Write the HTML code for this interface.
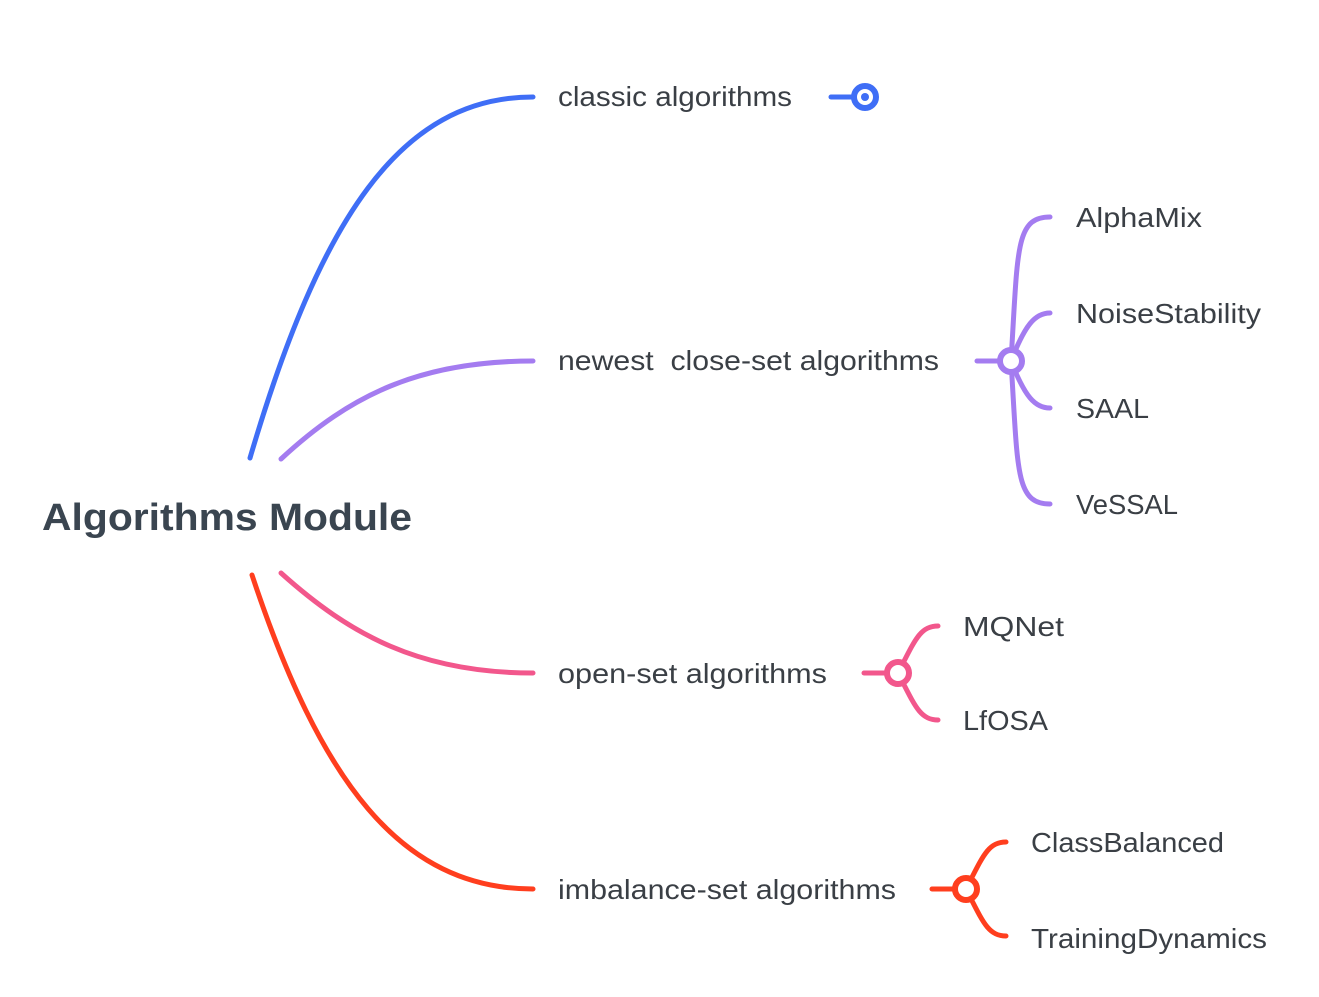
<!DOCTYPE html>
<html><head><meta charset="utf-8"><style>
html,body{margin:0;padding:0;background:#fff;}
svg{display:block;}
text{font-family:"Liberation Sans",sans-serif;fill:#3a3f45;font-size:28px;}
</style></head><body>
<svg width="1319" height="997" viewBox="0 0 1319 997" xmlns="http://www.w3.org/2000/svg">
<g fill="none" stroke-width="5" stroke-linecap="round">
<path d="M250,458 C320,220 400,97 533,97" stroke="#3f6ef6"/>
<path d="M281,459 C350,395 420,361 533,361" stroke="#a47cf0"/>
<path d="M281,573 C350,635 420,673 533,673" stroke="#f2578c"/>
<path d="M252,575 C320,780 400,889 533,889" stroke="#ff3e1e"/>
<line x1="831" y1="97" x2="853" y2="97" stroke="#3f6ef6"/>
<line x1="977" y1="361" x2="1000" y2="361" stroke="#a47cf0"/>
<path d="M1011,361 C1018,250 1015,217 1050,217" stroke="#a47cf0"/>
<path d="M1011,361 C1025,325 1035,313 1050,313" stroke="#a47cf0"/>
<path d="M1011,361 C1025,397 1035,408 1050,408" stroke="#a47cf0"/>
<path d="M1011,361 C1018,470 1015,504 1050,504" stroke="#a47cf0"/>
<line x1="864" y1="673" x2="887" y2="673" stroke="#f2578c"/>
<path d="M898,673 C915,640 920,626 938,626" stroke="#f2578c"/>
<path d="M898,673 C915,706 920,720 938,720" stroke="#f2578c"/>
<line x1="932" y1="889" x2="955" y2="889" stroke="#ff3e1e"/>
<path d="M966,889 C983,856 988,842 1006,842" stroke="#ff3e1e"/>
<path d="M966,889 C983,922 988,936 1006,936" stroke="#ff3e1e"/>
</g>
<g fill="#fff" stroke-width="6">
<circle cx="865" cy="97" r="11" stroke="#3f6ef6"/>
<circle cx="1011" cy="361" r="11" stroke="#a47cf0"/>
<circle cx="898" cy="673" r="11" stroke="#f2578c"/>
<circle cx="966" cy="889" r="11" stroke="#ff3e1e"/>
</g>
<circle cx="865" cy="97" r="4" fill="#3f6ef6"/>
<text x="42" y="530" font-weight="bold" style="font-size:38px;fill:#3a4550" textLength="370" lengthAdjust="spacingAndGlyphs">Algorithms Module</text>
<text x="558" y="106" textLength="234" lengthAdjust="spacingAndGlyphs">classic algorithms</text>
<text x="558" y="370" textLength="381" lengthAdjust="spacingAndGlyphs" xml:space="preserve">newest  close-set algorithms</text>
<text x="558" y="683" textLength="269" lengthAdjust="spacingAndGlyphs">open-set algorithms</text>
<text x="558" y="899" textLength="338" lengthAdjust="spacingAndGlyphs">imbalance-set algorithms</text>
<text x="1076" y="227" textLength="126" lengthAdjust="spacingAndGlyphs">AlphaMix</text>
<text x="1076" y="323" textLength="185" lengthAdjust="spacingAndGlyphs">NoiseStability</text>
<text x="1076" y="418" textLength="73" lengthAdjust="spacingAndGlyphs">SAAL</text>
<text x="1076" y="514" textLength="102" lengthAdjust="spacingAndGlyphs">VeSSAL</text>
<text x="963" y="636" textLength="101" lengthAdjust="spacingAndGlyphs">MQNet</text>
<text x="963" y="730" textLength="85" lengthAdjust="spacingAndGlyphs">LfOSA</text>
<text x="1031" y="852" textLength="193" lengthAdjust="spacingAndGlyphs">ClassBalanced</text>
<text x="1031" y="948" textLength="236" lengthAdjust="spacingAndGlyphs">TrainingDynamics</text>
</svg>
</body></html>
